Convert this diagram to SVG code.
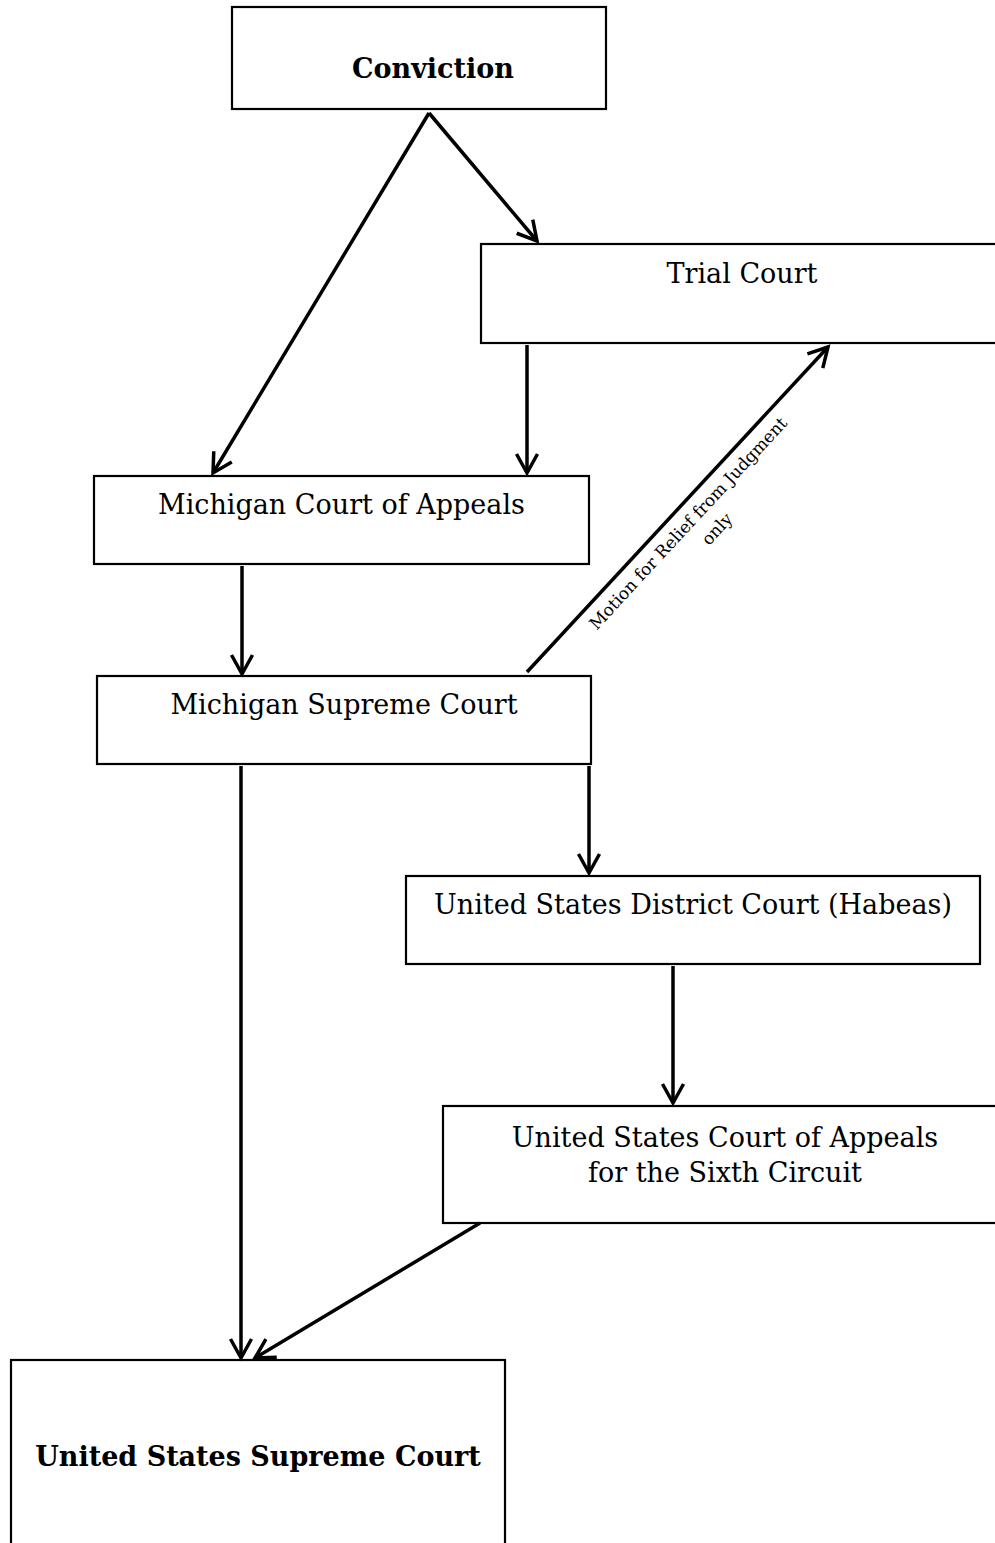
<svg xmlns="http://www.w3.org/2000/svg" width="995" height="1543" viewBox="0 0 995 1543">
<style>
.box{fill:#fff;stroke:#000;stroke-width:2.2}
.t{font-family:"DejaVu Serif","Liberation Serif",serif;font-size:27px;fill:#000;text-anchor:middle}
.b{font-weight:bold}
.c{stroke:#000;stroke-width:3.5;fill:none}
.lbl{font-family:"DejaVu Serif","Liberation Serif",serif;font-size:17px;fill:#000}
</style>
<defs>
<marker id="ah" markerUnits="userSpaceOnUse" viewBox="-24 -14 28 28" refX="0" refY="0" markerWidth="28" markerHeight="28" orient="auto">
<path d="M-19,-10.5 L0,0 L-19,10.5" fill="none" stroke="#000" stroke-width="3.5"/>
</marker>
</defs>
<rect width="995" height="1543" fill="#fff"/>
<g id="conviction"><rect class="box" x="232" y="7" width="374" height="102"/><text class="t b" x="433" y="78">Conviction</text></g>
<g id="trial-court"><rect class="box" x="481" y="244" width="530" height="99"/><text class="t" x="742" y="283">Trial Court</text></g>
<g id="mi-court-appeals"><rect class="box" x="94" y="476" width="495" height="88"/><text class="t" x="341.5" y="514">Michigan Court of Appeals</text></g>
<g id="mi-supreme-court"><rect class="box" x="97" y="676" width="494" height="88"/><text class="t" x="344" y="714">Michigan Supreme Court</text></g>
<g id="us-district-court"><rect class="box" x="406" y="876" width="574" height="88"/><text class="t" x="693" y="914">United States District Court (Habeas)</text></g>
<g id="sixth-circuit"><rect class="box" x="443" y="1106" width="570" height="117"/><text class="t" x="725" y="1147">United States Court of Appeals</text><text class="t" x="725" y="1182">for the Sixth Circuit</text></g>
<g id="us-supreme-court"><rect class="box" x="11" y="1360" width="494" height="200"/><text class="t b" x="258" y="1466">United States Supreme Court</text></g>
<g id="connectors">
<line class="c" x1="429" y1="113" x2="213" y2="473" marker-end="url(#ah)"/>
<line class="c" x1="429" y1="113" x2="537" y2="241" marker-end="url(#ah)"/>
<line class="c" x1="527" y1="345" x2="527" y2="473" marker-end="url(#ah)"/>
<line class="c" x1="242" y1="566" x2="242" y2="674" marker-end="url(#ah)"/>
<line class="c" x1="527" y1="672" x2="828" y2="347" marker-end="url(#ah)"/>
<line class="c" x1="241" y1="766" x2="241" y2="1358" marker-end="url(#ah)"/>
<line class="c" x1="589" y1="766" x2="589" y2="873" marker-end="url(#ah)"/>
<line class="c" x1="673" y1="966" x2="673" y2="1103" marker-end="url(#ah)"/>
<line class="c" x1="480" y1="1223" x2="255" y2="1358" marker-end="url(#ah)"/>
<g transform="translate(527,672) rotate(-47.2)">
<text class="lbl" x="218.5" y="23" text-anchor="middle">Motion for Relief from Judgment</text>
<text class="lbl" x="234" y="48" text-anchor="middle">only</text>
</g>
</g>
</svg>
